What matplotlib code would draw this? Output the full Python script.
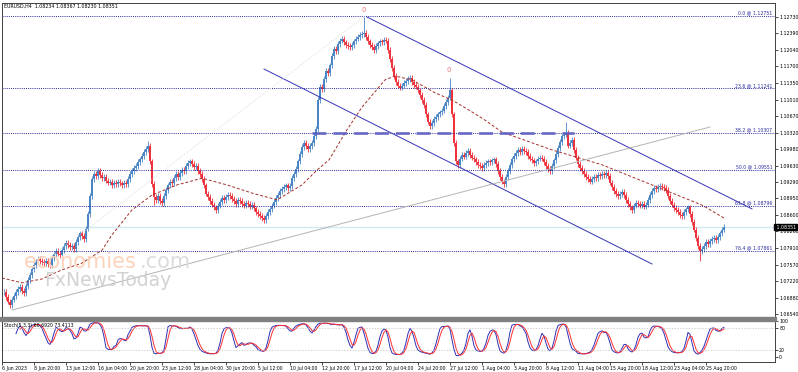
import numpy as np
import pandas as pd
import matplotlib
matplotlib.use("Agg")
import matplotlib.pyplot as plt

W, H = 798, 372

# EURUSD H4 closes, in pips above 1.0600, bars 2..362 (10 per row)
first_bar = 2
close_pips = [
    100, 90, 80, 72, 84, 92, 100, 106, 110, 102,
    98, 112, 125, 136, 148, 156, 162, 168, 165, 162,
    160, 164, 158, 156, 170, 178, 186, 180, 176, 188,
    196, 202, 198, 194, 196, 190, 204, 214, 222, 216,
    210, 232, 262, 300, 336, 345, 342, 352, 344, 338,
    340, 332, 328, 330, 322, 328, 324, 330, 326, 322,
    328, 325, 336, 345, 352, 358, 362, 370, 376, 384,
    392, 398, 405, 372, 325, 298, 292, 300, 290, 286,
    300, 312, 322, 330, 326, 338, 346, 340, 348, 355,
    352, 362, 368, 372, 366, 360, 362, 352, 345, 336,
    322, 305, 298, 290, 282, 276, 270, 280, 288, 295,
    292, 298, 302, 300, 294, 290, 284, 292, 290, 284,
    280, 286, 284, 278, 282, 274, 266, 262, 258, 254,
    250, 258, 266, 272, 280, 288, 296, 302, 310, 314,
    318, 322, 316, 320, 338, 345, 356, 372, 388, 402,
    410, 404, 398, 404, 410, 425, 440, 500, 528, 522,
    544, 560, 556, 572, 592, 606, 602, 616, 624, 628,
    620, 615, 612, 610, 614, 622, 628, 632, 636, 638,
    640, 632, 622, 614, 610, 605, 612, 618, 622, 620,
    626, 624, 604, 585, 566, 550, 538, 530, 526, 530,
    536, 540, 544, 546, 538, 532, 528, 520, 510, 500,
    490, 470, 455, 445, 452, 460, 464, 470, 474, 478,
    488, 496, 505, 520, 470, 410, 372, 365, 378, 385,
    382, 390, 394, 386, 380, 376, 370, 364, 362, 358,
    364, 368, 372, 370, 374, 376, 366, 352, 340, 330,
    325, 340, 352, 364, 376, 384, 390, 396, 392, 398,
    394, 392, 384, 378, 374, 368, 372, 378, 380, 378,
    370, 362, 356, 352, 362, 374, 388, 400, 412, 424,
    428, 432, 405, 410, 416, 396, 380, 366, 358, 352,
    346, 340, 336, 330, 336, 340, 338, 344, 342, 346,
    344, 348, 342, 328, 318, 310, 304, 300, 304, 308,
    302, 292, 284, 276, 270, 280, 286, 284, 280, 284,
    278, 282, 292, 302, 310, 316, 314, 318, 320, 318,
    316, 312, 300, 290, 282, 275, 270, 266, 260, 258,
    266, 272, 276, 262, 246, 230, 212, 196, 185, 190,
    196, 204, 200, 206, 210, 212, 208, 214, 222, 230,
    235.1,
]
wick_pips = 6
# bars whose high / low stand out from the body
spike_high = {74: 415, 182: 673, 225: 546, 283: 454}
spike_low = {5: 66, 77: 282, 350: 164}

ma_bars = [1, 11, 21, 31, 41, 51, 56, 66, 76, 88.5, 101, 113.5, 126, 138.5, 151, 158.5, 164.5, 173.5,
           181, 192.5, 197.5, 206, 217.5, 226, 234.5, 242.5, 251, 276, 301, 326, 351, 362]
ma_vals = [1.0729, 1.0719, 1.0727, 1.0746, 1.0760, 1.0787, 1.0819, 1.0871, 1.0902, 1.0923, 1.0937,
           1.0923, 1.0906, 1.0892, 1.0923, 1.0954, 1.0975, 1.1038, 1.1085, 1.1142, 1.1150, 1.1142,
           1.1115, 1.1100, 1.1079, 1.1058, 1.1033, 1.0996, 1.0965, 1.0923, 1.0881, 1.0854]

fib_pct = ["0.0", "23.6", "38.2", "50.0", "61.8", "76.4"]
fib_vals = [1.12751, 1.11241, 1.10307, 1.09551, 1.08796, 1.07861]

price_ticks = [1.12730, 1.12390, 1.12040, 1.11700, 1.11350, 1.11010, 1.10670, 1.10320, 1.09980,
               1.09630, 1.09290, 1.08950, 1.08600, 1.08260, 1.07910, 1.07570, 1.07220, 1.06880, 1.06540]

time_bars = [1 + 16 * k for k in range(23)]
time_labels = ["6 Jun 2023", "8 Jun 20:00", "13 Jun 12:00", "16 Jun 04:00", "20 Jun 20:00",
               "23 Jun 12:00", "28 Jun 04:00", "30 Jun 20:00", "5 Jul 12:00", "10 Jul 04:00",
               "12 Jul 20:00", "17 Jul 12:00", "20 Jul 04:00", "24 Jul 20:00", "27 Jul 12:00",
               "1 Aug 04:00", "3 Aug 20:00", "8 Aug 12:00", "11 Aug 04:00", "15 Aug 20:00",
               "18 Aug 12:00", "23 Aug 04:00", "25 Aug 20:00"]

chan_upper = ([183.5, 376], [1.1273, 1.0873])
chan_lower = ([132, 326], [1.11646, 1.07582])
trend_gray = ([6, 355], [1.06623, 1.10437])
fib_diag = ([-18, 182.5], [1.0634, 1.12751])
zone_line = ([156, 287], [1.10312, 1.10312])
last_price = 1.08351

# ---- figure / axes in pixel layout
fig = plt.figure(figsize=(W / 100, H / 100), dpi=100)


def px_axes(l, t, r, b):
    return fig.add_axes([l / W, 1 - b / H, (r - l) / W, (b - t) / H])


ax = px_axes(2, 3, 775, 317)
ax2 = px_axes(2, 320, 775, 362)

df = pd.DataFrame({"x": np.arange(first_bar, first_bar + len(close_pips)),
                   "c": 1.06 + np.array(close_pips) / 1e4})
df["o"] = df["c"].shift(1).fillna(df["c"])
df["h"] = df[["o", "c"]].max(axis=1) + wick_pips / 1e4
df["l"] = df[["o", "c"]].min(axis=1) - wick_pips / 1e4
for b, v in spike_high.items():
    df.loc[df["x"] == b, "h"] = 1.06 + v / 1e4
for b, v in spike_low.items():
    df.loc[df["x"] == b, "l"] = 1.06 + v / 1e4

bull = "#4a86c6"
bear = "#f0323c"
cols = np.where(df["c"] >= df["o"], bull, bear)
ax.vlines(df["x"], df["l"], df["h"], colors=cols, lw=0.6)
ax.bar(df["x"], (df["c"] - df["o"]).abs().clip(lower=0.00005), bottom=df[["o", "c"]].min(axis=1),
       width=0.7, color=cols, linewidth=0)

ax.plot(ma_bars, ma_vals, color="#a5302a", lw=0.7, dashes=(3, 2))

navy = "#2a2aa0"
for pct, v in zip(fib_pct, fib_vals):
    ax.axhline(v, color=navy, lw=0.7, ls=(0, (1, 1.2)))
    ax.text(386.3, v + 0.0001, f"{pct} @ {v:.5f}", color=navy, fontsize=3.3, ha="right", va="bottom")

ax.axhline(last_price, color="#cfeaf2", lw=1.0, zorder=0)
ax.plot(*chan_upper, color="#3434b4", lw=0.7)
ax.plot(*chan_lower, color="#3434b4", lw=0.7)
ax.plot(*trend_gray, color="#b4b4b4", lw=0.7)
ax.plot(*fib_diag, color="#d6d6d6", lw=0.6, ls=(0, (1, 1.5)))
ax.plot(*zone_line, color="#5c5cc0", lw=2.0, dashes=(5, 2.5), alpha=0.85)

ax.text(182, 1.1287, "0", color="#f07878", fontsize=5, ha="center", va="center")
ax.text(224.5, 1.1162, "0", color="#f07878", fontsize=5, ha="center", va="center")

ax.set_xlim(1, 387.5)
ax.set_ylim(1.06477, 1.13022)
ax.yaxis.tick_right()
ax.set_yticks(price_ticks)
ax.set_yticklabels([f"{t:.5f}" for t in price_ticks])
ax.tick_params(axis="y", labelsize=3.4, length=2, width=0.5, pad=1)
ax.set_xticks([])
for s in ax.spines.values():
    s.set_linewidth(0.7)
    s.set_color("#404040")

ax.text(1.0, last_price, f" {last_price:.5f}", transform=ax.get_yaxis_transform(), fontsize=3.4,
        color="white", va="center", ha="left",
        bbox=dict(boxstyle="square,pad=0.15", fc="black", ec="black"))

fig.text(4 / W, 1 - 6 / H, "EURUSD,H4  1.08234 1.08367 1.08230 1.08351", fontsize=3.4, va="center")

fig.text(24 / W, 1 - 262 / H, "economies", fontsize=15, color="#fcd3ba", va="center")
fig.text(140 / W, 1 - 262 / H, ".com", fontsize=15, color="#dcdcdc", va="center")
fig.text(44 / W, 1 - 280 / H, "FxNewsToday", fontsize=13.5, color="#d2d2d2", va="center")

# separator between panels
fig.patches.append(plt.Rectangle((0, 1 - 320.5 / H), 776 / W, 3.5 / H, transform=fig.transFigure,
                                 color="#808080"))

# ---- stochastic 5,3,3
hh = df["h"].rolling(5).max()
ll = df["l"].rolling(5).min()
k_main = 100 * (df["c"] - ll).rolling(3).sum() / (hh - ll).rolling(3).sum()
k_sig = k_main.rolling(3).mean()
ax2.plot(df["x"], k_main, color="#3030b8", lw=0.7)
ax2.plot(df["x"], k_sig, color="#ff3030", lw=0.7)
ax2.axhline(80, color="#c0c0c0", lw=0.5, ls=(0, (2, 2)))
ax2.axhline(20, color="#c0c0c0", lw=0.5, ls=(0, (2, 2)))
ax2.set_xlim(1, 387.5)
ax2.set_ylim(-13.9, 102.8)
ax2.yaxis.tick_right()
ax2.set_yticks([100, 80, 20, 0])
ax2.tick_params(axis="y", labelsize=3.4, length=2, width=0.5, pad=1)
ax2.set_xticks(time_bars)
ax2.set_xticklabels(time_labels, ha="left")
ax2.tick_params(axis="x", labelsize=3.3, length=2, width=0.5, pad=1)
for s in ax2.spines.values():
    s.set_linewidth(0.7)
    s.set_color("#404040")
ax2.text(0.002, 0.93, "Stoch(5,3,3) 66.6920 73.4113", transform=ax2.transAxes, fontsize=3.3, va="top")

fig.savefig("out.png", dpi=100)
